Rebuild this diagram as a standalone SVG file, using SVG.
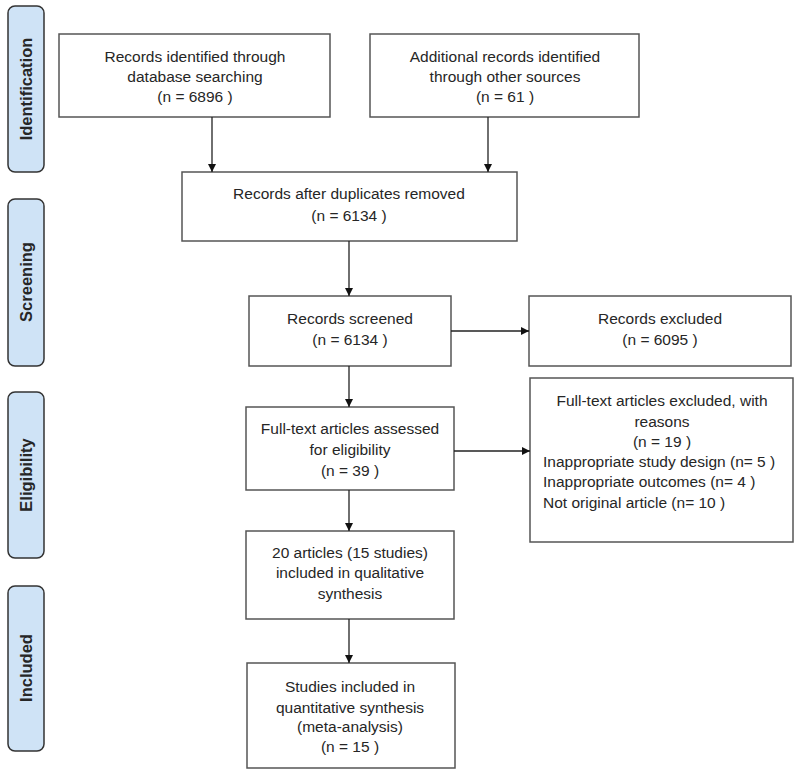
<svg xmlns="http://www.w3.org/2000/svg" width="800" height="775" viewBox="0 0 800 775">
<defs>
<marker id="ah" viewBox="0 0 10 10" refX="10" refY="5" markerWidth="8" markerHeight="8" markerUnits="userSpaceOnUse" orient="auto"><path d="M0,0 L10,5 L0,10 Z" fill="#111"/></marker>
<style>
.box{fill:#fff;stroke:#555;stroke-width:1.5}
.side{fill:#cfe3f6;stroke:#333;stroke-width:1.5}
text{font-family:"Liberation Sans",Arial,sans-serif;font-size:15.5px;fill:#262626}
.c{text-anchor:middle}
.lbl{font-weight:bold;text-anchor:middle;font-size:16.5px}
.con{stroke:#222;stroke-width:1.3;fill:none;marker-end:url(#ah)}
</style>
</defs>
<rect width="800" height="775" fill="#fff"/>
<g id="stage-identification"><rect class="side" x="8" y="6" width="36" height="166" rx="7"/><text class="lbl" transform="translate(32,89) rotate(-90)">Identification</text></g>
<g id="stage-screening"><rect class="side" x="8" y="199" width="36" height="167" rx="7"/><text class="lbl" transform="translate(32,282) rotate(-90)">Screening</text></g>
<g id="stage-eligibility"><rect class="side" x="8" y="392" width="36" height="166" rx="7"/><text class="lbl" transform="translate(32,475) rotate(-90)">Eligibility</text></g>
<g id="stage-included"><rect class="side" x="8" y="586" width="36" height="165" rx="7"/><text class="lbl" transform="translate(32,668) rotate(-90)">Included</text></g>

<g id="n-database"><rect class="box" x="59" y="34" width="271" height="83"/>
<text class="c" x="195" y="62">Records identified through</text>
<text class="c" x="195" y="82">database searching</text>
<text class="c" x="195" y="102">(n = 6896 )</text></g>
<g id="n-other"><rect class="box" x="370" y="34" width="269" height="83"/>
<text class="c" x="505" y="62">Additional records identified</text>
<text class="c" x="505" y="82">through other sources</text>
<text class="c" x="505" y="102">(n = 61 )</text></g>
<g id="n-dup"><rect class="box" x="182" y="172" width="335" height="69"/>
<text class="c" x="349" y="199">Records after duplicates removed</text>
<text class="c" x="349" y="221">(n = 6134 )</text></g>
<g id="n-screened"><rect class="box" x="249" y="296" width="202" height="70"/>
<text class="c" x="350" y="324">Records screened</text>
<text class="c" x="350" y="345">(n = 6134 )</text></g>
<g id="n-excluded"><rect class="box" x="529" y="296" width="262" height="70"/>
<text class="c" x="660" y="324">Records excluded</text>
<text class="c" x="660" y="345">(n = 6095 )</text></g>
<g id="n-fulltext"><rect class="box" x="246" y="407" width="208" height="83"/>
<text class="c" x="350" y="434">Full-text articles assessed</text>
<text class="c" x="350" y="455">for eligibility</text>
<text class="c" x="350" y="476">(n = 39 )</text></g>
<g id="n-ftexcluded"><rect class="box" x="530" y="378" width="263" height="164"/>
<text class="c" x="662" y="406">Full-text articles excluded, with</text>
<text class="c" x="662" y="427">reasons</text>
<text class="c" x="662" y="447">(n = 19 )</text>
<text x="543" y="467">Inappropriate study design (n= 5 )</text>
<text x="543" y="487">Inappropriate outcomes (n= 4 )</text>
<text x="543" y="508">Not original article (n= 10 )</text></g>
<g id="n-qualitative"><rect class="box" x="246" y="531" width="208" height="88"/>
<text class="c" x="350" y="558">20 articles (15 studies)</text>
<text class="c" x="350" y="578">included in qualitative</text>
<text class="c" x="350" y="599">synthesis</text></g>
<g id="n-quantitative"><rect class="box" x="247" y="663" width="208" height="105"/>
<text class="c" x="350" y="692">Studies included in</text>
<text class="c" x="350" y="713">quantitative synthesis</text>
<text class="c" x="350" y="732">(meta-analysis)</text>
<text class="c" x="350" y="752">(n = 15 )</text></g>

<g id="connectors">
<line class="con" x1="212" y1="117" x2="212" y2="172"/>
<line class="con" x1="488" y1="117" x2="488" y2="172"/>
<line class="con" x1="349" y1="241" x2="349" y2="296"/>
<line class="con" x1="451" y1="331" x2="529" y2="331"/>
<line class="con" x1="349" y1="366" x2="349" y2="407"/>
<line class="con" x1="454" y1="451" x2="530" y2="451"/>
<line class="con" x1="349" y1="490" x2="349" y2="531"/>
<line class="con" x1="349" y1="619" x2="349" y2="663"/>
</g>
</svg>
